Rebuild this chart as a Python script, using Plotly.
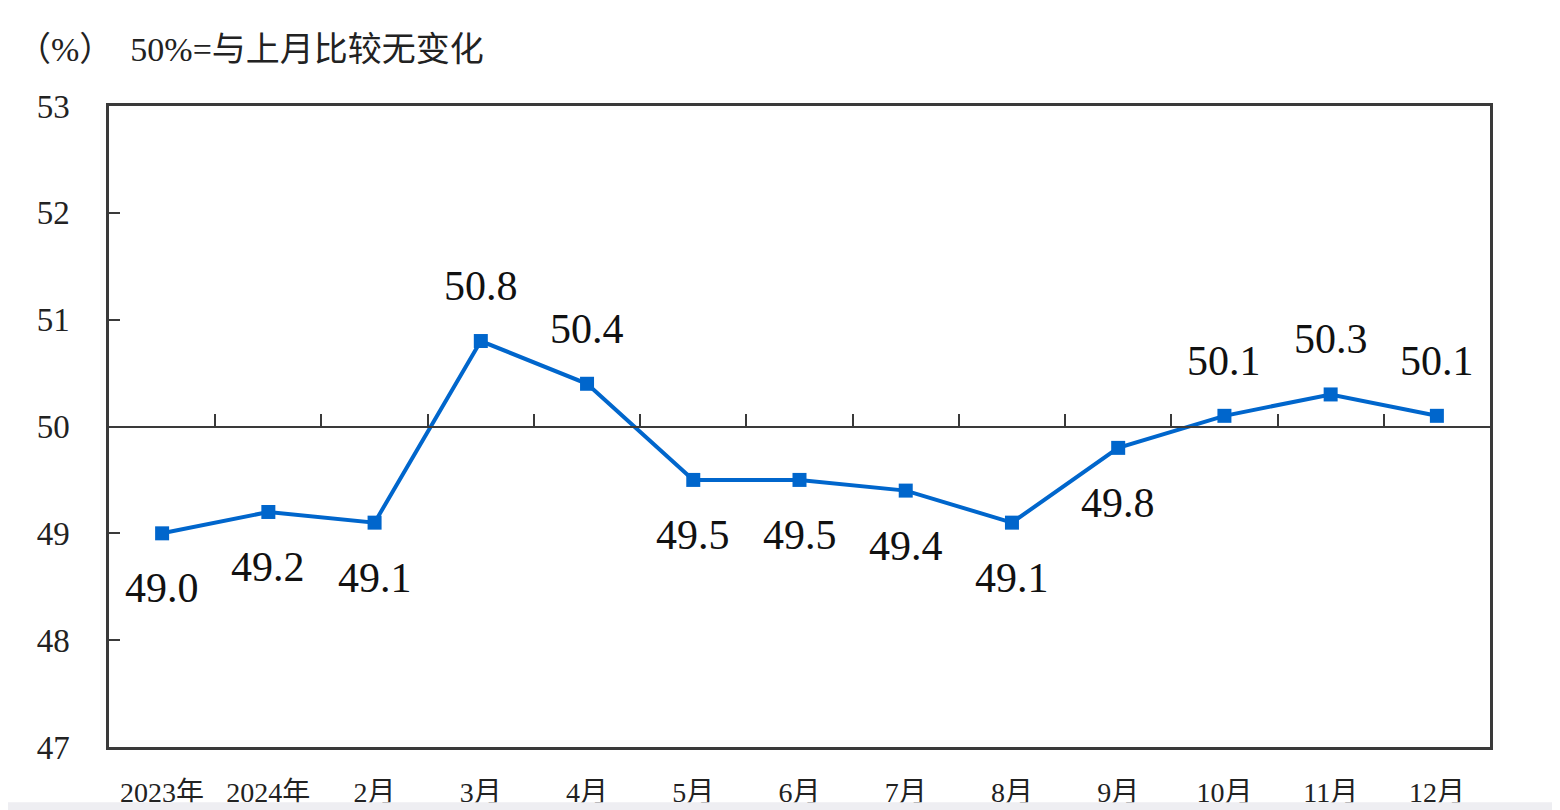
import plotly.graph_objects as go

# 月份与指数值
months = ['2023年', '2024年', '2月', '3月', '4月', '5月', '6月',
          '7月', '8月', '9月', '10月', '11月', '12月']
values = [49.0, 49.2, 49.1, 50.8, 50.4, 49.5, 49.5, 49.4, 49.1, 49.8, 50.1, 50.3, 50.1]
label_text = ['49.0', '49.2', '49.1', '50.8', '50.4', '49.5', '49.5',
              '49.4', '49.1', '49.8', '50.1', '50.3', '50.1']
# 标签在点的上方还是下方
label_side = ['below', 'below', 'below', 'above', 'above', 'below', 'below',
              'below', 'below', 'below', 'above', 'above', 'above']
y_ticks = [47, 48, 49, 50, 51, 52, 53]

serif = 'Liberation Serif, Noto Sans CJK SC, serif'
blue = '#0066cc'
dark = '#3a3a3a'

fig = go.Figure()
fig.add_trace(go.Scatter(
    x=months, y=values, mode='lines+markers',
    line=dict(color=blue, width=4),
    marker=dict(symbol='square', size=14, color=blue),
    showlegend=False, hoverinfo='x+y'))

# 50% 参考线（用第二个x轴画出，带向上的刻度）
fig.add_trace(go.Scatter(x=[], y=[], xaxis='x2', showlegend=False))

for m, v, t, s in zip(months, values, label_text, label_side):
    fig.add_annotation(x=m, y=v, text=t, showarrow=False,
                       yshift=55 if s == 'above' else -55,
                       font=dict(family=serif, size=42, color='#111111'))

fig.add_annotation(xref='paper', yref='paper', x=-0.068, y=1.0, yshift=57,
                   xanchor='left', yanchor='middle', showarrow=False,
                   text='（%）  50%=与上月比较无变化',
                   font=dict(family=serif, size=34, color='#222222'))

fig.update_layout(
    width=1560, height=810,
    margin=dict(l=101, r=78, t=98, b=71),
    paper_bgcolor='white', plot_bgcolor='white',
    xaxis=dict(type='category', range=[-0.5, len(months) - 0.5],
               showgrid=False, zeroline=False, automargin=False,
               showline=True, mirror=True, linecolor=dark, linewidth=2.5,
               ticks='', ticklabelstandoff=19,
               tickfont=dict(family=serif, size=28, color='#222222')),
    xaxis2=dict(overlaying='x', anchor='free', position=0.5,
                range=[-0.5, len(months) - 0.5], showgrid=False, zeroline=False,
                showline=True, linecolor=dark, linewidth=2,
                ticks='inside', ticklen=12, tickwidth=2, tickcolor=dark,
                tickmode='array', tickvals=[i + 0.5 for i in range(len(months) - 1)],
                showticklabels=False),
    yaxis=dict(range=[y_ticks[0], y_ticks[-1]], tickmode='array', tickvals=y_ticks,
               showgrid=False, zeroline=False, automargin=False,
               showline=True, mirror=True, linecolor=dark, linewidth=2.5,
               ticks='inside', ticklen=11, tickwidth=2, tickcolor=dark,
               ticklabelstandoff=30,
               tickfont=dict(family=serif, size=33, color='#222222')),
    shapes=[dict(type='rect', xref='paper', yref='paper', layer='above',
                 x0=-0.1, x1=1.1, y0=-0.086, y1=-0.2,
                 fillcolor='#eeeef2', line=dict(width=0))],
)

fig.write_html('out.html')
